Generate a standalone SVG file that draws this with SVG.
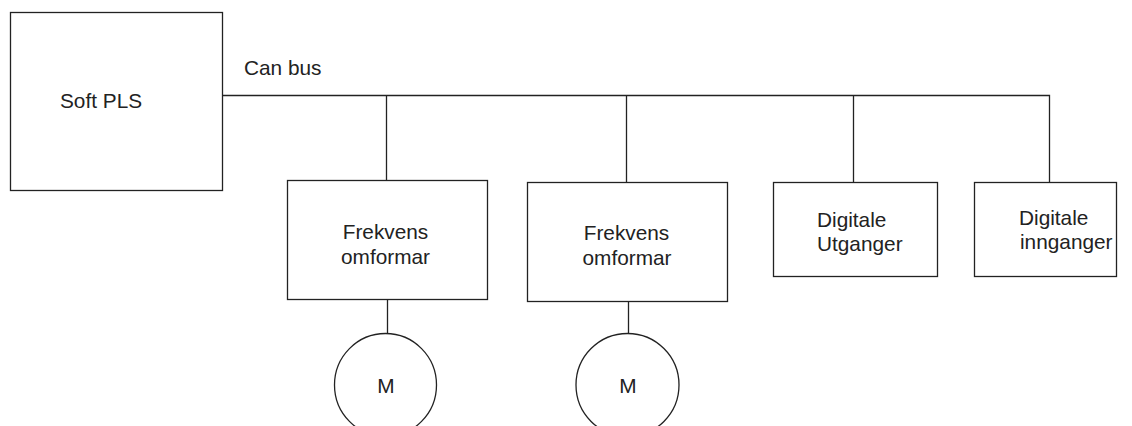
<svg xmlns="http://www.w3.org/2000/svg" width="1132" height="426" viewBox="0 0 1132 426">
<style>
.box{fill:#fff;stroke:#222;stroke-width:1.3}
.ln{fill:none;stroke:#222;stroke-width:1.3}
text{font-family:"Liberation Sans",Arial,sans-serif;font-size:20.8px;fill:#222}
.c{text-anchor:middle}
</style>
<rect width="1132" height="426" fill="#fff"/>
<g id="connectors">
<path class="ln" d="M222.5 95.5H1049.5V182M386.5 95.5V181M626.5 95.5V182M853.5 95.5V182M387.5 299V334M628.5 301V334"/>
</g>
<g id="softpls">
<rect class="box" x="10.5" y="12.5" width="212" height="178"/>
<text x="60" y="108">Soft PLS</text>
</g>
<text x="244" y="75">Can bus</text>
<g id="frek1">
<rect class="box" x="287.5" y="180.5" width="200" height="119"/>
<text class="c" x="385.5" y="239">Frekvens</text>
<text class="c" x="385.5" y="264">omformar</text>
</g>
<g id="frek2">
<rect class="box" x="527.5" y="182.5" width="200" height="119"/>
<text class="c" x="626.5" y="240">Frekvens</text>
<text class="c" x="627" y="265">omformar</text>
</g>
<g id="du">
<rect class="box" x="773.5" y="182.5" width="164" height="94"/>
<text x="817" y="227">Digitale</text>
<text x="817" y="251">Utganger</text>
</g>
<g id="di">
<rect class="box" x="974.5" y="182.5" width="142" height="94"/>
<text x="1019" y="225">Digitale</text>
<text x="1020" y="249">innganger</text>
</g>
<g id="m1">
<ellipse class="box" cx="385.5" cy="385" rx="51" ry="51.5"/>
<text class="c" x="386" y="393">M</text>
</g>
<g id="m2">
<ellipse class="box" cx="627.5" cy="385" rx="51.5" ry="51.5"/>
<text class="c" x="628" y="393">M</text>
</g>
</svg>
